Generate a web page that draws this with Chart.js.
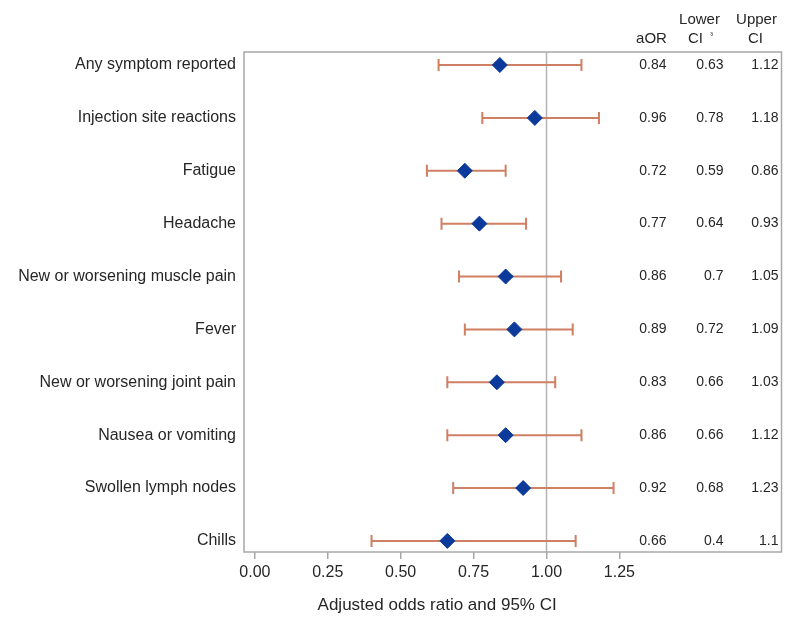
<!DOCTYPE html>
<html>
<head>
<meta charset="utf-8">
<script src="https://cdn.jsdelivr.net/npm/chart.js@4"></script>
<style>
  html, body { margin: 0; padding: 0; background: #fff; overflow: hidden; }
</style>
</head>
<body>
<canvas id="myChart" width="790" height="617"></canvas>
<script>
var symptoms = [
    "Any symptom reported", "Injection site reactions", "Fatigue", "Headache",
    "New or worsening muscle pain", "Fever", "New or worsening joint pain",
    "Nausea or vomiting", "Swollen lymph nodes", "Chills"
];
var aOR   = [0.84, 0.96, 0.72, 0.77, 0.86, 0.89, 0.83, 0.86, 0.92, 0.66];
var lower = [0.63, 0.78, 0.59, 0.64, 0.7, 0.72, 0.66, 0.66, 0.68, 0.4];
var upper = [1.12, 1.18, 0.86, 0.93, 1.05, 1.09, 1.03, 1.12, 1.23, 1.1];
var lowerText = ["0.63", "0.78", "0.59", "0.64", "0.7", "0.72", "0.66", "0.66", "0.68", "0.4"];
var upperText = ["1.12", "1.18", "0.86", "0.93", "1.05", "1.09", "1.03", "1.12", "1.23", "1.1"];
var xTicks = [0, 0.25, 0.5, 0.75, 1, 1.25];

var font = "'Liberation Sans', Arial, sans-serif";
var textColor = '#262626';
var barColor = '#cf7f62';
var frameColor = '#a8a8a8';

var points = aOR.map(function (v, i) { return { x: v, y: i }; });

// frame, reference line, CI whiskers, table and axis title
var extras = {
    id: 'extras',
    beforeDatasetsDraw: function (chart) {
        var c = chart.ctx, a = chart.chartArea;
        var xs = chart.scales.x, ys = chart.scales.y;
        c.save();
        // reference line at 1
        c.strokeStyle = '#b4b4b4';
        c.lineWidth = 1.5;
        var x1 = Math.round(xs.getPixelForValue(1)) + 0.5;
        c.beginPath();
        c.moveTo(x1, a.top);
        c.lineTo(x1, a.bottom);
        c.stroke();
        // confidence intervals
        c.strokeStyle = barColor;
        c.lineWidth = 2;
        for (var i = 0; i < aOR.length; i++) {
            var y = ys.getPixelForValue(i);
            var l = xs.getPixelForValue(lower[i]);
            var u = xs.getPixelForValue(upper[i]);
            c.beginPath();
            c.moveTo(l, y); c.lineTo(u, y);
            c.moveTo(l, y - 6); c.lineTo(l, y + 6);
            c.moveTo(u, y - 6); c.lineTo(u, y + 6);
            c.stroke();
        }
        c.restore();
    },
    afterDraw: function (chart) {
        var c = chart.ctx, a = chart.chartArea;
        var xs = chart.scales.x, ys = chart.scales.y;
        c.save();
        // frame
        c.strokeStyle = frameColor;
        c.lineWidth = 1.5;
        c.strokeRect(a.left, a.top, a.right - a.left, a.bottom - a.top);
        // table
        c.fillStyle = textColor;
        c.textBaseline = 'middle';
        c.textAlign = 'right';
        c.font = '14px ' + font;
        var cols = [a.right - 115, a.right - 58, a.right - 3];
        for (var i = 0; i < aOR.length; i++) {
            var y = ys.getPixelForValue(i);
            c.fillText(aOR[i].toFixed(2), cols[0], y);
            c.fillText(lowerText[i], cols[1], y);
            c.fillText(upperText[i], cols[2], y);
        }
        c.textAlign = 'center';
        c.font = '15px ' + font;
        c.fillText('aOR', a.right - 130, 39);
        c.fillText('Lower', a.right - 82, 20);
        c.fillText('CI', a.right - 86, 39);
        c.fillText('Upper', a.right - 25, 20);
        c.fillText('CI', a.right - 26, 39);
        c.font = '8px ' + font;
        c.fillText('³', a.right - 70, 36);
        // axis title, centred over the tick range
        c.font = '17px ' + font;
        var mid = (xs.getPixelForValue(xTicks[0]) + xs.getPixelForValue(xTicks[xTicks.length - 1])) / 2;
        c.fillText('Adjusted odds ratio and 95% CI', mid, 605);
        c.restore();
    }
};

var config = {
    type: 'scatter',
    data: {
        datasets: [{
            label: 'aOR',
            data: points,
            pointStyle: 'rectRot',
            pointRadius: 7.5,
            pointHoverRadius: 7.5,
            backgroundColor: '#0b3a9a',
            borderColor: '#0b3a9a',
            borderWidth: 1
        }]
    },
    options: {
        responsive: false,
        animation: false,
        events: [],
        layout: {
            padding: { top: 52, right: -5, left: 0, bottom: 0 }
        },
        plugins: {
            legend: { display: false },
            tooltip: { enabled: false }
        },
        scales: {
            x: {
                type: 'linear',
                min: -0.0373,
                max: 1.806,
                afterBuildTicks: function (scale) {
                    scale.ticks = xTicks.map(function (v) { return { value: v }; });
                },
                afterFit: function (scale) {
                    scale.height = 65;
                },
                grid: {
                    display: true,
                    drawOnChartArea: false,
                    drawTicks: true,
                    tickLength: 7,
                    color: frameColor,
                    lineWidth: 1.5
                },
                border: { display: false },
                ticks: {
                    color: textColor,
                    font: { family: font, size: 16 },
                    padding: 4,
                    maxRotation: 0,
                    autoSkip: false,
                    callback: function (v) { return Number(v).toFixed(2); }
                }
            },
            y: {
                type: 'linear',
                reverse: true,
                min: -0.246,
                max: 9.21,
                afterBuildTicks: function (scale) {
                    scale.ticks = symptoms.map(function (s, i) { return { value: i }; });
                },
                afterFit: function (scale) {
                    scale.width = 244;
                },
                grid: { display: false, drawTicks: false },
                border: { display: false },
                ticks: {
                    color: textColor,
                    font: { family: font, size: 16 },
                    padding: 8,
                    autoSkip: false,
                    callback: function (v) { return symptoms[v]; }
                }
            }
        }
    },
    plugins: [extras]
};

var myChart = new Chart(document.getElementById('myChart'), config);

// the plot frame should run to x=788
var gap = 788 - myChart.chartArea.right;
if (Math.abs(gap) > 0.5) {
    config.options.layout.padding.right -= gap;
    myChart.update();
}
</script>
</body>
</html>
